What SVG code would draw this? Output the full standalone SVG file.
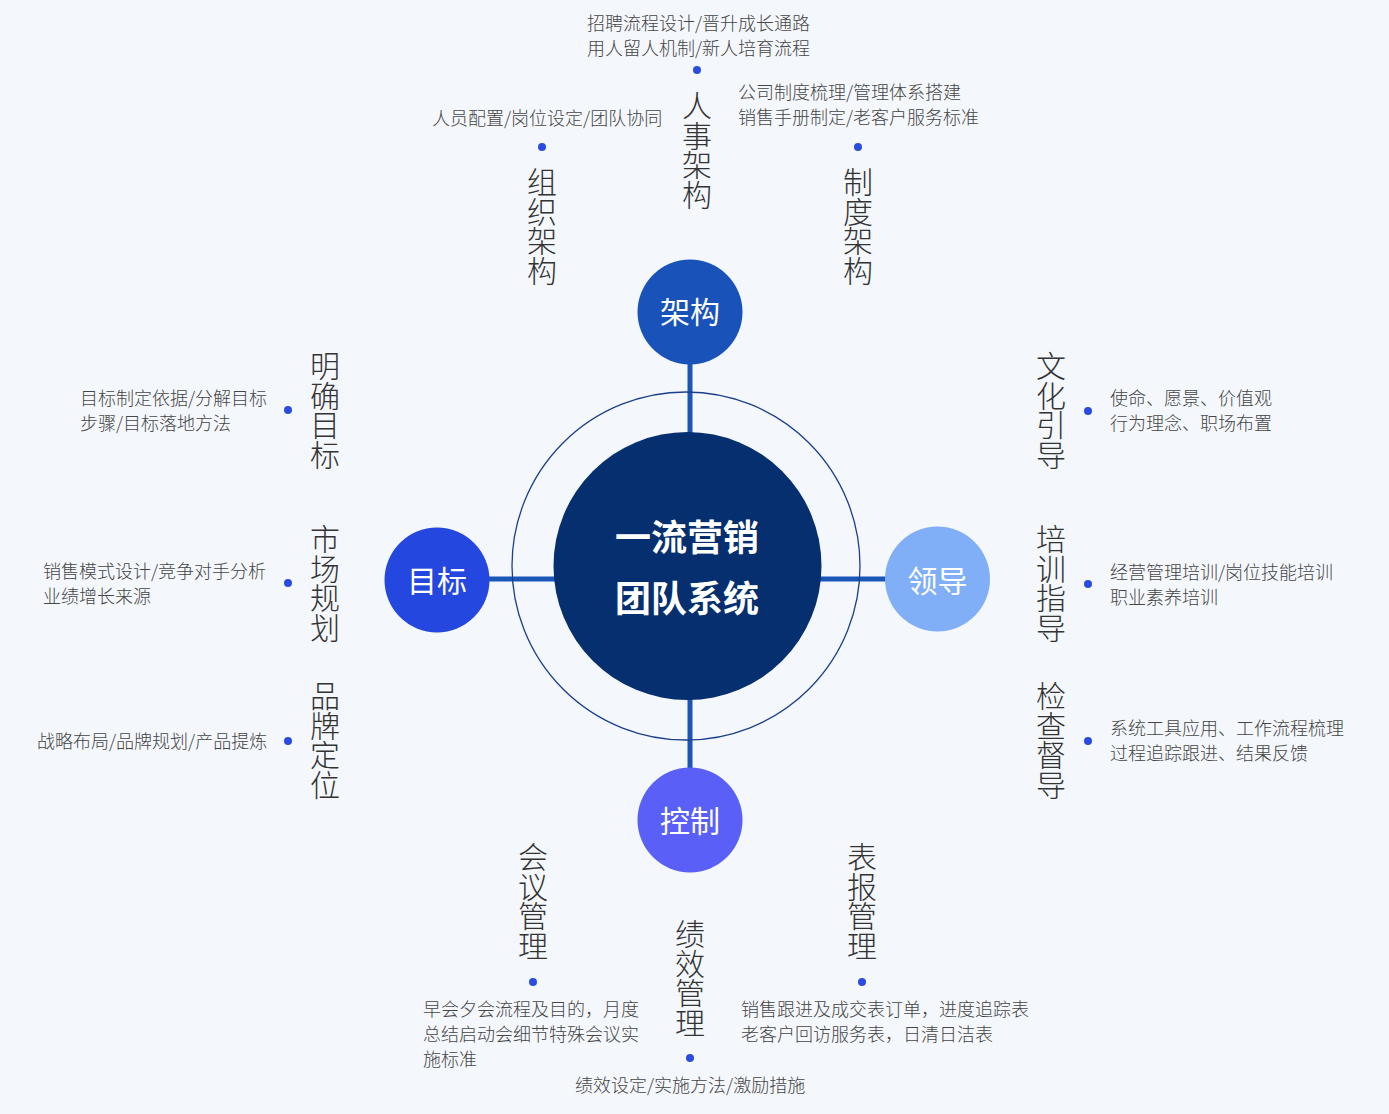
<svg xmlns="http://www.w3.org/2000/svg" width="1389" height="1114" viewBox="0 0 1389 1114">
<defs>
<style>
.lbl{font-family:"Noto Sans CJK SC","Noto Sans",sans-serif;font-size:18px;font-weight:300;fill:#454545}
.ttl{font-family:"Noto Sans CJK SC","Noto Sans",sans-serif;font-size:30px;font-weight:300;fill:#333333;writing-mode:vertical-rl;text-orientation:upright;letter-spacing:-0.5px}
.sat{font-family:"Noto Sans CJK SC","Noto Sans",sans-serif;font-size:30px;font-weight:400;fill:#ffffff;text-anchor:middle}
.ctr{font-family:"Noto Sans CJK SC","Noto Sans",sans-serif;font-size:36px;font-weight:700;fill:#ffffff;text-anchor:middle}
.dot{fill:#2a4de0}
.conn{stroke:#1a55b8;stroke-width:5;fill:none}
</style>
</defs>
<rect width="1389" height="1114" fill="#f4f7fc"/>
<g id="connectors">
<line class="conn" x1="690" y1="362" x2="690" y2="436"/>
<line class="conn" x1="690" y1="696" x2="690" y2="770"/>
<line class="conn" x1="487" y1="579" x2="557" y2="579"/>
<line class="conn" x1="817" y1="579" x2="887" y2="579"/>
</g>
<g id="ring"><circle cx="686" cy="566" r="174" fill="none" stroke="#1c3f8c" stroke-width="1.3"/></g>
<g id="center"><circle cx="687.5" cy="566" r="134" fill="#052f6e"/>
<text class="ctr" x="687" y="551">一流营销</text>
<text class="ctr" x="687" y="612">团队系统</text></g>
<g id="node-jiagou"><circle cx="690" cy="312" r="52.5" fill="#1953b9"/><text class="sat" x="690" y="323">架构</text></g>
<g id="node-mubiao"><circle cx="437" cy="580" r="52.5" fill="#2447e0"/><text class="sat" x="437" y="592">目标</text></g>
<g id="node-lingdao"><circle cx="937.5" cy="579" r="52.5" fill="#80aff7"/><text class="sat" x="937.5" y="592" fill="#f2f6ff">领导</text></g>
<g id="node-kongzhi"><circle cx="690" cy="820" r="52.5" fill="#5a60f7"/><text class="sat" x="690" y="832">控制</text></g>

<g id="node-renshi">
<text class="lbl" x="587" y="30">招聘流程设计/晋升成长通路</text>
<text class="lbl" x="587" y="55">用人留人机制/新人培育流程</text>
<circle class="dot" cx="697" cy="70" r="4"/>
<text class="ttl" x="697" y="91">人事架构</text>
</g>
<g id="node-zuzhi">
<text class="lbl" x="432" y="125">人员配置/岗位设定/团队协同</text>
<circle class="dot" cx="542" cy="147" r="4"/>
<text class="ttl" x="542" y="167">组织架构</text>
</g>
<g id="node-zhidu">
<text class="lbl" x="738" y="99">公司制度梳理/管理体系搭建</text>
<text class="lbl" x="738" y="124">销售手册制定/老客户服务标准</text>
<circle class="dot" cx="858" cy="147" r="4"/>
<text class="ttl" x="858" y="167">制度架构</text>
</g>

<g id="node-mingque">
<text class="ttl" x="325" y="351">明确目标</text>
<circle class="dot" cx="288" cy="410" r="4"/>
<text class="lbl" x="80" y="405">目标制定依据/分解目标</text>
<text class="lbl" x="80" y="430">步骤/目标落地方法</text>
</g>
<g id="node-shichang">
<text class="ttl" x="325" y="524">市场规划</text>
<circle class="dot" cx="288" cy="583" r="4"/>
<text class="lbl" x="43" y="578">销售模式设计/竞争对手分析</text>
<text class="lbl" x="43" y="603">业绩增长来源</text>
</g>
<g id="node-pinpai">
<text class="ttl" x="325" y="681">品牌定位</text>
<circle class="dot" cx="288" cy="741" r="4"/>
<text class="lbl" x="37" y="748">战略布局/品牌规划/产品提炼</text>
</g>

<g id="node-wenhua">
<text class="ttl" x="1051" y="351">文化引导</text>
<circle class="dot" cx="1088" cy="411" r="4"/>
<text class="lbl" x="1110" y="405">使命、愿景、价值观</text>
<text class="lbl" x="1110" y="430">行为理念、职场布置</text>
</g>
<g id="node-peixun">
<text class="ttl" x="1051" y="524">培训指导</text>
<circle class="dot" cx="1088" cy="584" r="4"/>
<text class="lbl" x="1110" y="579">经营管理培训/岗位技能培训</text>
<text class="lbl" x="1110" y="604">职业素养培训</text>
</g>
<g id="node-jiancha">
<text class="ttl" x="1051" y="681">检查督导</text>
<circle class="dot" cx="1088" cy="741" r="4"/>
<text class="lbl" x="1110" y="735">系统工具应用、工作流程梳理</text>
<text class="lbl" x="1110" y="760">过程追踪跟进、结果反馈</text>
</g>

<g id="node-huiyi">
<text class="ttl" x="533" y="842">会议管理</text>
<circle class="dot" cx="533" cy="982" r="4"/>
<text class="lbl" x="423" y="1016">早会夕会流程及目的，月度</text>
<text class="lbl" x="423" y="1041">总结启动会细节特殊会议实</text>
<text class="lbl" x="423" y="1066">施标准</text>
</g>
<g id="node-jixiao">
<text class="ttl" x="690" y="919">绩效管理</text>
<circle class="dot" cx="690" cy="1058" r="4"/>
<text class="lbl" x="575" y="1092">绩效设定/实施方法/激励措施</text>
</g>
<g id="node-biaobao">
<text class="ttl" x="862" y="842">表报管理</text>
<circle class="dot" cx="862" cy="982" r="4"/>
<text class="lbl" x="741" y="1016">销售跟进及成交表订单，进度追踪表</text>
<text class="lbl" x="741" y="1041">老客户回访服务表，日清日洁表</text>
</g>
</svg>
